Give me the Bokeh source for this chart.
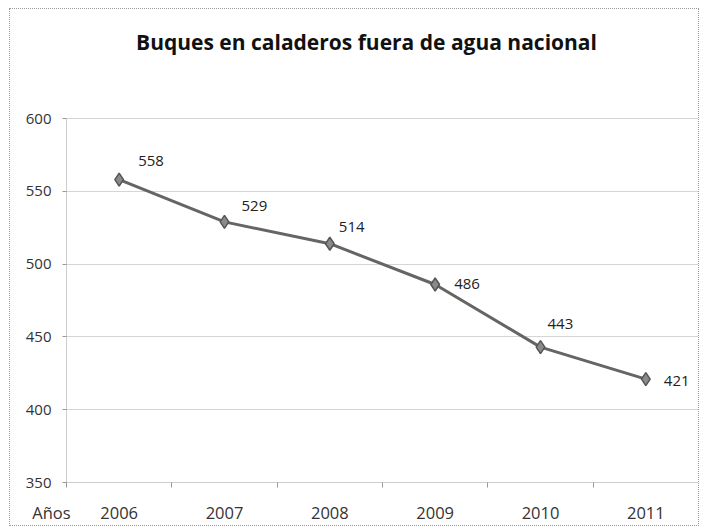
from bokeh.plotting import figure
from bokeh.models import ColumnDataSource, FixedTicker, Label, LabelSet, Range1d
from bokeh.core.properties import value
from bokeh.embed import file_html
from bokeh.resources import INLINE

years = ["2006", "2007", "2008", "2009", "2010", "2011"]
values = [558, 529, 514, 486, 443, 421]
y_ticks = [350, 400, 450, 500, 550, 600]
title_text = "Buques en caladeros fuera de agua nacional"
axis_title = "Años"

# label offsets in pixels (style)
label_dx = [19, 17, 9, 19, 7, 18]
label_dy = [19, 16, 17, 0, 23, -2]

xs = [i + 0.5 for i in range(len(years))]
src = ColumnDataSource(dict(x=xs, y=values, t=[str(v) for v in values],
                            dx=label_dx, dy=label_dy))

# layout: frame extends above the 600 line so the title can live inside it
frame_h = 457          # px
axis_px = 364          # px used by 350..600
y_lo, y_hi = y_ticks[0], y_ticks[-1]
y_top = y_hi + (frame_h - axis_px) * (y_hi - y_lo) / axis_px

p = figure(width=690, height=518, output_backend="svg", toolbar_location=None,
           title=None,
           x_range=Range1d(0, len(years)), y_range=Range1d(y_lo, y_top),
           min_border_left=56, min_border_right=2, min_border_top=16,
           min_border_bottom=45)
p.styles = {"border": "1px dotted #999999", "margin": "8px 0 0 9px"}
p.outline_line_color = None

p.add_layout(Label(x=300, y=441, x_units="screen", y_units="screen",
                   text=title_text, text_font="Open Sans", text_font_style="bold",
                   text_font_size="21px", text_color="#111111",
                   text_align="center", text_baseline="middle"))

pad = "\u00a0" * 7
p.xaxis.ticker = FixedTicker(ticks=[0] + xs, minor_ticks=list(range(len(years) + 1)))
overrides = {x: y for x, y in zip(xs, years)}
overrides[0] = axis_title + pad
p.xaxis.major_label_overrides = overrides
p.xaxis.major_tick_out = 0
p.xaxis.major_tick_in = 0
p.xaxis.minor_tick_out = 5
p.xaxis.minor_tick_in = 0
p.xaxis.minor_tick_line_color = "#999999"
p.xaxis.axis_line_color = "#999999"
p.xaxis.axis_line_dash = "1 1"
p.xaxis.major_label_text_font = "Open Sans"
p.xaxis.major_label_text_font_size = "16.5px"
p.xaxis.major_label_text_color = "#333333"
p.xaxis.major_label_standoff = 13

p.yaxis.ticker = FixedTicker(ticks=y_ticks, minor_ticks=[])
p.yaxis.bounds = (y_lo, y_hi)
p.yaxis.major_tick_out = 4
p.yaxis.major_tick_in = 0
p.yaxis.major_tick_line_color = "#999999"
p.yaxis.axis_line_color = "#999999"
p.yaxis.axis_line_dash = "1 1"
p.yaxis.major_label_text_font = "Open Sans"
p.yaxis.major_label_text_font_size = "15px"
p.yaxis.major_label_text_color = "#333333"
p.yaxis.major_label_standoff = 11

p.xgrid.grid_line_color = None
p.ygrid.grid_line_color = "#aaaaaa"
p.ygrid.grid_line_dash = "1 1"
p.ygrid.grid_line_width = 1

p.line("x", "y", source=src, line_color="#656565", line_width=3)
p.scatter("x", "y", source=src, marker="diamond", size=13,
          fill_color="#8a8a8a", line_color="#555555", line_width=1.5)

labels = LabelSet(x="x", y="y", text="t", source=src, x_offset="dx", y_offset="dy",
                  text_font=value("Open Sans"), text_font_size="15px",
                  text_color="#222222", text_align="left", text_baseline="middle")
p.add_layout(labels)

open("out.html", "w").write(file_html(p, INLINE))
